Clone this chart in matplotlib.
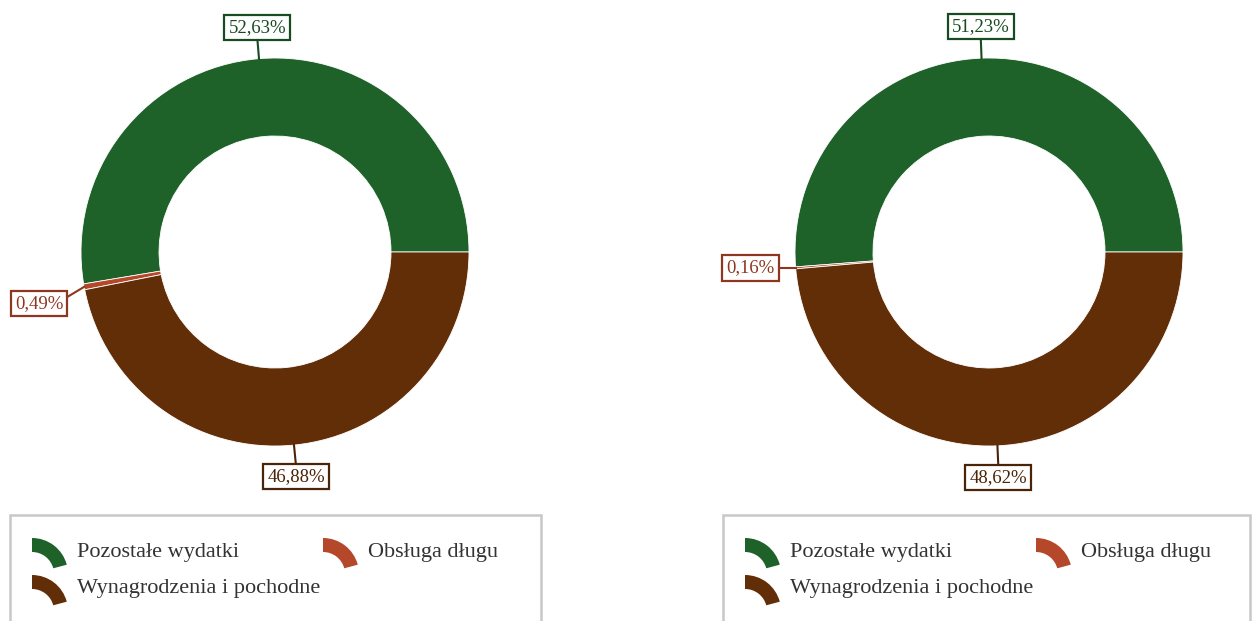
import numpy as np
import matplotlib.pyplot as plt
from matplotlib.patches import Wedge, Rectangle

plt.rcParams['font.family'] = ['Liberation Serif', 'DejaVu Serif']

# data
categories = ['Pozostałe wydatki', 'Obsługa długu', 'Wynagrodzenia i pochodne']
values_left = [52.63, 0.49, 46.88]
values_right = [51.23, 0.16, 48.62]
labels_left = ['52,63%', '0,49%', '46,88%']
labels_right = ['51,23%', '0,16%', '48,62%']

colors = ['#1e622a', '#b5472b', '#622e07']
dark = ['#1a4a22', '#8e3620', '#4a2408']

W, H = 1252, 621
fig = plt.figure(figsize=(W / 100, H / 100), dpi=100)
ax = fig.add_axes([0, 0, 1, 1])

R, RIN = 194, 116
box = dict(boxstyle='square,pad=0.22', fc='white', lw=1.6)


def donut(cx, cy_px, values, labels):
    cy = H - cy_px
    ax.pie(values, colors=colors, startangle=0, counterclock=True,
           center=(cx, cy), radius=R,
           wedgeprops=dict(width=R - RIN, edgecolor='white', linewidth=0.6))
    total = sum(values)
    start = 0
    for v, lab, dc in zip(values, labels, dark):
        mid = np.deg2rad((start + v / 2) / total * 360)
        start += v
        x1, y1 = cx + R * np.cos(mid), cy + R * np.sin(mid)
        if abs(np.cos(mid)) > 0.6:
            # side label, pushed down a bit when close to the slice above
            side = np.sign(np.cos(mid))
            dy = -17 if v > 0.3 else 0
            x2 = x1 + side * 17
            ax.plot([x1, x2], [y1, y1 + dy * 0.6], color=dc, lw=1.5)
            ax.text(x1 + side * 21, y1 + dy, lab, ha='left' if side > 0 else 'right',
                    va='center', fontsize=13.5, color=dc, bbox=dict(box, ec=dc))
        else:
            r2 = R + 20
            x2, y2 = cx + r2 * np.cos(mid), cy + r2 * np.sin(mid)
            ax.plot([x1, x2], [y1, y2], color=dc, lw=1.5)
            up = np.sin(mid) > 0
            ax.text(x2, y2 + (3 if up else -3), lab, ha='center',
                    va='bottom' if up else 'top', fontsize=13.5, color=dc,
                    bbox=dict(box, ec=dc))


def legend(x0, x1):
    ax.add_patch(Rectangle((x0, -10), x1 - x0, H - 515 + 10, fill=False,
                           ec='#c8c8c8', lw=1.8))
    spots = [(x0 + 22, 550), (x0 + 313, 550), (x0 + 22, 587)]
    for (ix, iy), name, c in zip(spots, categories, colors):
        cy = H - (iy + 24)
        ax.add_patch(Wedge((ix, cy), 36, 15, 90, width=14, fc=c, ec='none'))
        ax.text(ix + 45, H - iy - 2, name, ha='left', va='center', fontsize=16, color='#333333')


donut(275, 252, values_left, labels_left)
donut(989, 252, values_right, labels_right)
legend(10, 541)
legend(723, 1250)

ax.set_xlim(0, W)
ax.set_ylim(0, H)
ax.set_aspect('equal')
ax.axis('off')

fig.savefig('out.png', dpi=100)
